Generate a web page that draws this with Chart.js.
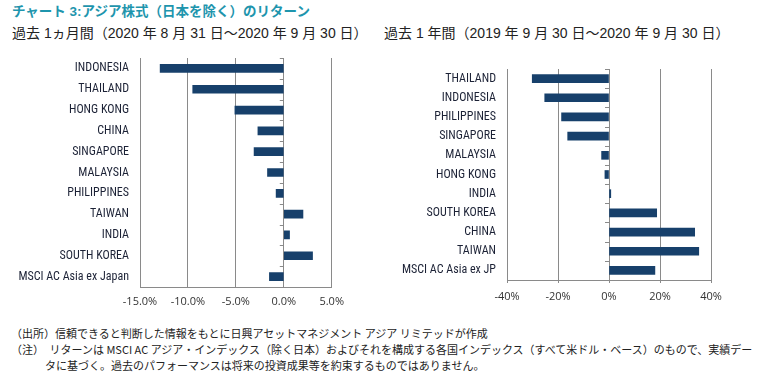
<!DOCTYPE html>
<html>
<head>
<meta charset="utf-8">
<script src="https://cdn.jsdelivr.net/npm/chart.js@4/dist/chart.umd.min.js"></script>
<style>
  body { margin: 0; width: 762px; height: 380px; background: #fff; position: relative; overflow: hidden;
         font-family: "Liberation Sans", "Noto Sans CJK JP", sans-serif; }
  .txt { position: absolute; white-space: nowrap; line-height: 1; }
  #title { left: 12px; top: 5px; font-size: 13.5px; font-weight: bold; color: #1e95ad; }
  .sub { top: 26px; font-size: 14px; color: #222; }
  .note { font-family: "Noto Sans CJK JP", sans-serif; font-size: 11px; color: #222; }
  .box { position: absolute; }
</style>
</head>
<body>
<div id="title" class="txt">チャート 3:アジア株式（日本を除く）のリターン</div>
<div class="txt sub" style="left:12px">過去 1ヵ月間（2020 年 8 月 31 日～2020 年 9 月 30 日）</div>
<div class="txt sub" style="left:384px">過去 1 年間（2019 年 9 月 30 日～2020 年 9 月 30 日）</div>

<div class="box" style="left:0; top:50px; width:352px; height:259px"><canvas id="left"></canvas></div>
<div class="box" style="left:380px; top:60px; width:350px; height:242px"><canvas id="right"></canvas></div>

<div class="txt note" style="left:11px; top:328px">（出所）信頼できると判断した情報をもとに日興アセットマネジメント アジア リミテッドが作成</div>
<div class="txt note" style="left:11px; top:344px">（注）　リターンは MSCI AC アジア・インデックス（除く日本）およびそれを構成する各国インデックス（すべて米ドル・ベース）のもので、実績デー</div>
<div class="txt note" style="left:45px; top:360px">タに基づく。過去のパフォーマンスは将来の投資成果等を約束するものではありません。</div>

<script>
// 1 month returns (%)
const monthCategories = ["INDONESIA", "THAILAND", "HONG KONG", "CHINA", "SINGAPORE", "MALAYSIA",
                         "PHILIPPINES", "TAIWAN", "INDIA", "SOUTH KOREA", "MSCI AC Asia ex Japan"];
const monthValues = [-12.9, -9.5, -5.1, -2.7, -3.1, -1.7, -0.8, 2.0, 0.6, 3.0, -1.5];
const monthTicks = [-15, -10, -5, 0, 5];

// 1 year returns (%)
const yearCategories = ["THAILAND", "INDONESIA", "PHILIPPINES", "SINGAPORE", "MALAYSIA", "HONG KONG",
                        "INDIA", "SOUTH KOREA", "CHINA", "TAIWAN", "MSCI AC Asia ex JP"];
const yearValues = [-30.1, -25.2, -18.6, -16.2, -2.9, -1.6, 0.7, 18.7, 33.6, 35.2, 18.0];
const yearTicks = [-40, -20, 0, 20, 40];

const barColor = "#17406b";
const gridColor = "#8a8a8a";

// small tick marks on the zero line between categories
const zeroTicks = {
  id: "zeroTicks",
  afterDatasetsDraw(chart) {
    const x = chart.scales.x.getPixelForValue(0);
    const y = chart.scales.y;
    const ctx = chart.ctx;
    ctx.save();
    ctx.strokeStyle = gridColor;
    ctx.lineWidth = 1;
    for (let i = 0; i <= y.ticks.length; i++) {
      const py = Math.round(y.getPixelForValue(i - 0.5)) + 0.5;
      ctx.beginPath();
      ctx.moveTo(x - 4, py);
      ctx.lineTo(x, py);
      ctx.stroke();
    }
    ctx.restore();
  }
};

function makeChart(id, labels, values, ticks, opts) {
  new Chart(document.getElementById(id), {
    type: "bar",
    data: {
      labels: labels,
      datasets: [{ data: values, backgroundColor: barColor, barThickness: 8 }]
    },
    options: {
      indexAxis: "y",
      responsive: true,
      maintainAspectRatio: false,
      animation: false,
      layout: { padding: { top: opts.padTop, right: opts.padRight } },
      plugins: { legend: { display: false }, tooltip: { enabled: false } },
      scales: {
        x: {
          min: ticks[0],
          max: ticks[ticks.length - 1],
          afterBuildTicks: (s) => { s.ticks = ticks.map(v => ({ value: v })); },
          grid: { color: gridColor, drawTicks: opts.tickLen > 0, tickLength: opts.tickLen },
          border: { color: gridColor },
          ticks: {
            padding: opts.tickPad,
            color: "#333",
            font: { family: "Open Sans", size: 11 },
            callback: opts.fmt
          },
          afterFit: (s) => { s.height = 22; }
        },
        y: {
          grid: { display: false, drawTicks: false },
          border: { display: false },
          ticks: {
            padding: opts.labelPad,
            color: "#1c2236",
            font: { family: "'Liberation Sans Narrow', 'Roboto Condensed', Lato", size: 12 }
          },
          afterFit: (s) => {
            s.width = opts.axisWidth;
            s.paddingTop = 0;
            s.paddingBottom = 0;
          }
        }
      }
    },
    plugins: [zeroTicks]
  });
}

makeChart("left", monthCategories, monthValues, monthTicks, {
  padTop: 8, padRight: 17, tickLen: 0, tickPad: 8, labelPad: 11, axisWidth: 140,
  fmt: (v) => v.toFixed(1) + "%"
});
makeChart("right", yearCategories, yearValues, yearTicks, {
  padTop: 9, padRight: 19, tickLen: 3, tickPad: 7, labelPad: 11, axisWidth: 127,
  fmt: (v) => v + "%"
});
</script>
</body>
</html>
